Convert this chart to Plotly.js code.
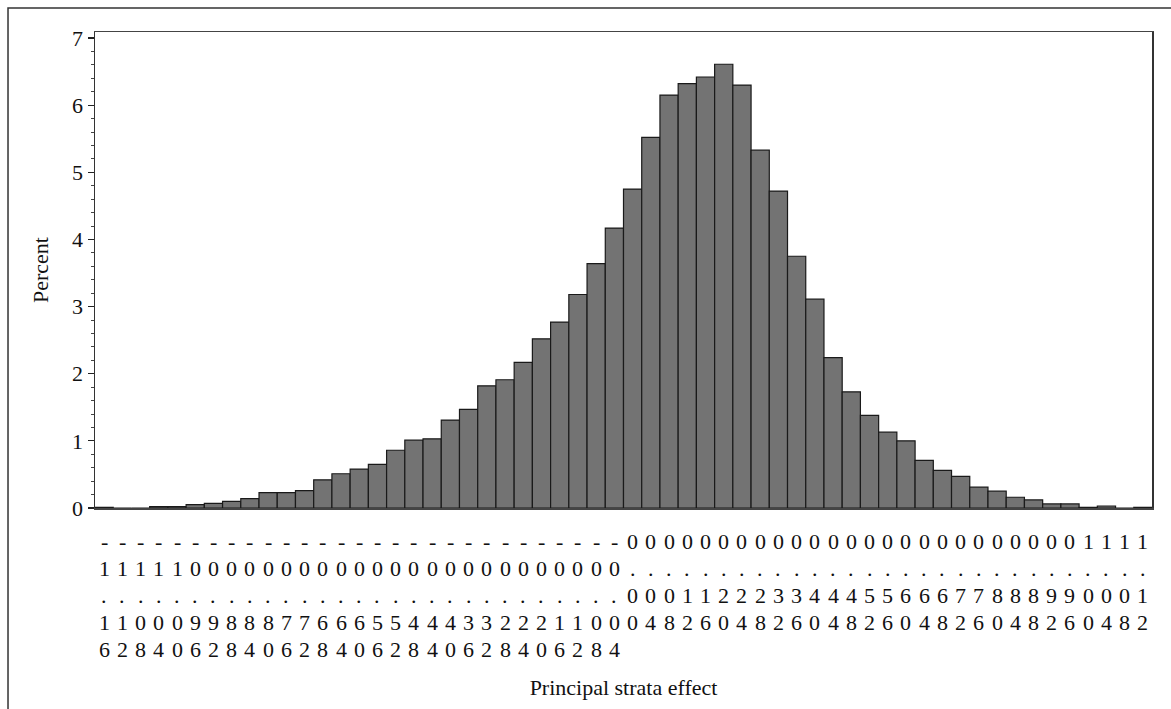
<!DOCTYPE html>
<html>
<head>
<meta charset="utf-8">
<script src="https://cdn.plot.ly/plotly-3.0.1.min.js"></script>
<style>
  html, body { margin: 0; padding: 0; background: #fff; }
  #chart { width: 1171px; height: 709px; }
</style>
</head>
<body>
<div id="chart"></div>
<script>
// Bin labels (bin midpoints), as printed under each bar
const binLabels = [
  "-1.16","-1.12","-1.08","-1.04","-1.00","-0.96","-0.92","-0.88","-0.84","-0.80",
  "-0.76","-0.72","-0.68","-0.64","-0.60","-0.56","-0.52","-0.48","-0.44","-0.40",
  "-0.36","-0.32","-0.28","-0.24","-0.20","-0.16","-0.12","-0.08","-0.04",
  "0.00","0.04","0.08","0.12","0.16","0.20","0.24","0.28","0.32","0.36",
  "0.40","0.44","0.48","0.52","0.56","0.60","0.64","0.68","0.72","0.76",
  "0.80","0.84","0.88","0.92","0.96","1.00","1.04","1.08","1.12"
];
// Percent of observations in each bin
const percentValues = [
  0.01, 0.00, 0.00, 0.02, 0.02, 0.05, 0.07, 0.10, 0.14, 0.23,
  0.23, 0.26, 0.42, 0.51, 0.58, 0.65, 0.86, 1.01, 1.03, 1.31,
  1.47, 1.82, 1.91, 2.17, 2.52, 2.77, 3.18, 3.64, 4.17,
  4.75, 5.52, 6.15, 6.32, 6.42, 6.61, 6.30, 5.33, 4.72, 3.75,
  3.11, 2.24, 1.73, 1.38, 1.13, 1.00, 0.71, 0.56, 0.47, 0.31,
  0.25, 0.16, 0.12, 0.06, 0.06, 0.01, 0.03, 0.00, 0.01
];
const yTickVals = [0, 1, 2, 3, 4, 5, 6, 7];

const binMid = binLabels.map(Number);
const binWidth = 0.04;
const FONT = "Liberation Serif, Times New Roman, serif";
const FS = 22;

const trace = {
  type: "bar",
  x: binMid,
  y: percentValues,
  width: binWidth,
  marker: { color: "#737373", line: { color: "#1a1a1a", width: 1.2 } },
  hoverinfo: "x+y"
};

// vertical (stacked character) tick labels, SAS style
const rowShift = [33, 60, 87, 114, 141];
const annotations = [];
binLabels.forEach((lab, i) => {
  lab.split("").forEach((ch, r) => {
    annotations.push({
      xref: "x", yref: "paper",
      x: binMid[i], y: 0,
      yanchor: "middle", xanchor: "center",
      yshift: -rowShift[r],
      text: ch, showarrow: false,
      font: { family: FONT, size: FS, color: "#111" }
    });
  });
});

const layout = {
  width: 1171, height: 709,
  margin: { l: 95, r: 19, t: 32, b: 201 },
  paper_bgcolor: "#ffffff",
  plot_bgcolor: "#ffffff",
  showlegend: false,
  bargap: 0,
  font: { family: FONT, size: FS, color: "#111" },
  xaxis: {
    range: [-1.18, 1.14],
    showticklabels: false,
    ticks: "",
    showgrid: false, zeroline: false,
    showline: true, mirror: true, linecolor: "#444", linewidth: 1.5,
    title: { text: "Principal strata effect", font: { family: FONT, size: FS, color: "#111" }, standoff: 171 }
  },
  yaxis: {
    range: [0, 7.09],
    tickvals: yTickVals,
    ticks: "outside", ticklen: 6, tickwidth: 1.2, tickcolor: "#222",
    minor: { dtick: 0.2, ticks: "outside", ticklen: 3, tickwidth: 1, tickcolor: "#444", showgrid: false },
    showgrid: false, zeroline: false,
    showline: true, mirror: true, linecolor: "#333", linewidth: 1.5,
    tickfont: { family: FONT, size: FS, color: "#111" },
    title: { text: "Percent", font: { family: FONT, size: FS, color: "#111" }, standoff: 17 }
  },
  shapes: [
    { type: "rect", xref: "paper", yref: "paper",
      x0: -0.0823, y0: -0.6, x1: 1.2, y1: 1.0504,
      line: { color: "#333", width: 1.5 }, fillcolor: "rgba(0,0,0,0)", layer: "above" }
  ],
  annotations: annotations
};

Plotly.newPlot("chart", [trace], layout, { displayModeBar: false, staticPlot: true });
</script>
</body>
</html>
